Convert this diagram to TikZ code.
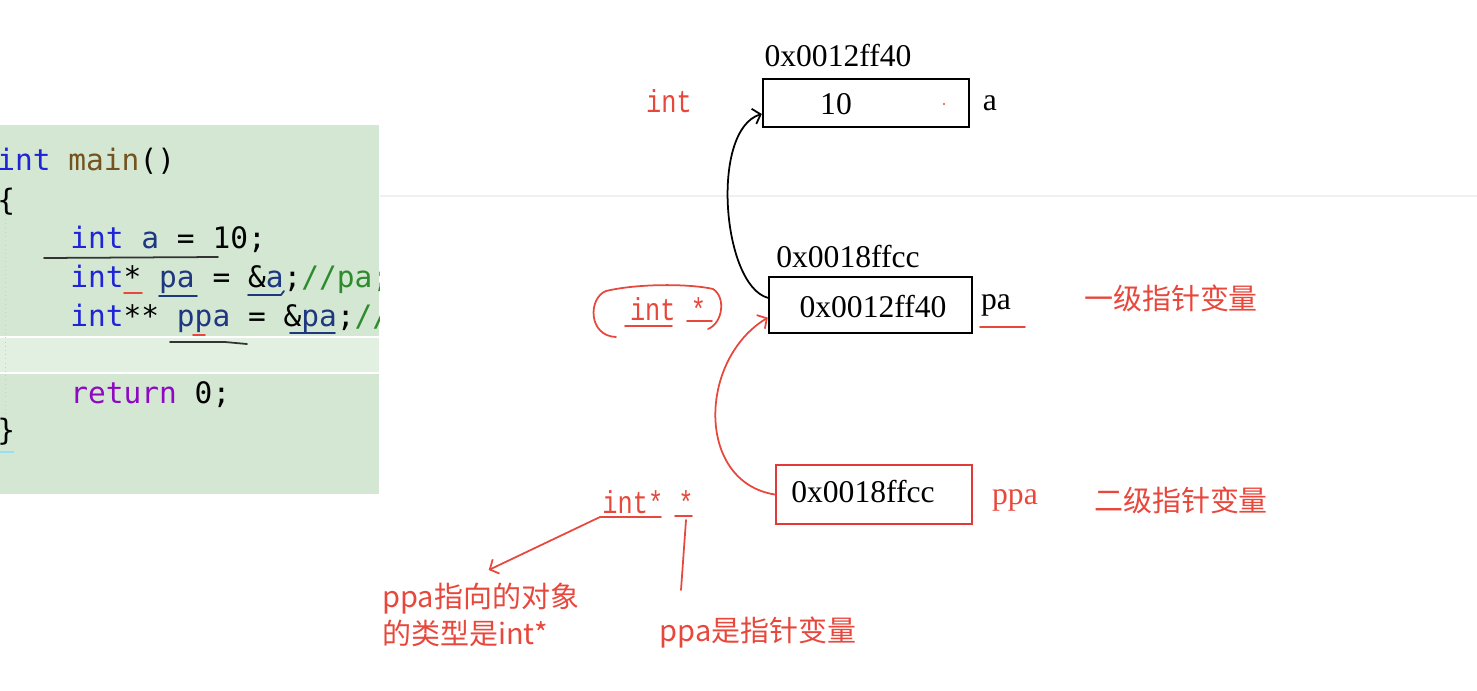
\documentclass[tikz,border=0pt]{standalone}
\usepackage{fontspec}
\setmainfont{Liberation Serif}
\setmonofont{DejaVu Sans Mono}
\newfontfamily\cjk{Noto Sans CJK SC}
\newfontfamily\simmono[FakeStretch=0.8]{Liberation Mono}
\definecolor{codebg}{HTML}{D3E7D3}
\definecolor{codeline}{HTML}{E2F0E2}
\definecolor{kwblue}{HTML}{1F24D6}
\definecolor{fnbrown}{HTML}{74531F}
\definecolor{varblue}{HTML}{1F377F}
\definecolor{cmtgreen}{HTML}{2E8B2E}
\definecolor{retpurple}{HTML}{8F08C4}
\definecolor{ink}{HTML}{E8473C}
\definecolor{boxred}{HTML}{E03A3A}
\usetikzlibrary{calc, arrows.meta}

\begin{document}
\begin{tikzpicture}[x=0.02cm, y=-0.02cm,
  code/.style={anchor=base west, inner sep=0pt, font=\ttfamily\fontsize{16.8}{20}\selectfont},
  cell/.style={draw=black, line width=1.4pt, minimum width=4.12cm, minimum height=0.96cm, inner sep=0pt},
  addr/.style={font=\fontsize{18}{20}\selectfont, inner sep=0pt},
  val/.style={font=\fontsize{18}{20}\selectfont, inner sep=0pt},
  vname/.style={font=\fontsize{18}{20}\selectfont, inner sep=0pt},
  redmono/.style={font=\simmono\fontsize{18}{20}\selectfont, text=ink, inner sep=0pt},
  rednote/.style={font=\cjk\fontsize{16.5}{21}\selectfont, text=ink, inner sep=0pt},
  pen/.style={line width=1pt, line cap=round, line join=round},
  barb/.style={-{Straight Barb[length=4pt,width=9pt]}},
]
\useasboundingbox (0,0) rectangle (1477,690);
\fill[codebg] (0,125) rectangle (379,494);
\fill[codeline] (0,337) rectangle (379,373);
\draw[white, line width=1.5pt] (0,337) -- (379,337) (0,373) -- (379,373);
\draw[gray!40, dotted] (5,215) -- (5,425);
\draw[black!6, line width=0.8pt] (380,196) -- (1477,196);

\begin{scope}
\clip (0,125) rectangle (379,494);
\node[code] (l1) at (-3,170) {\color{kwblue}int \color{fnbrown}main\color{black}()};
\node[code] (l2) at (-3,210) {\{};
\node[code] (l3) at (70,248) {\color{kwblue}int \color{varblue}a \color{black}= 10;};
\node[code] (l4) at (70,287) {\color{kwblue}int\color{black}* \color{varblue}pa \color{black}= \&\color{varblue}a\color{black};\color{cmtgreen}//pa;};
\node[code] (l5) at (70,326) {\color{kwblue}int\color{black}** \color{varblue}ppa \color{black}= \&\color{varblue}pa\color{black};\color{cmtgreen}//};
\node[code] (l6) at (70,403) {\color{retpurple}return \color{black}0;};
\node[code] (l7) at (-3,440) {\}};
\end{scope}
\draw[cyan!40, line width=1.5pt] (0,452) -- (14,452);
\draw[pen, black!80] (44,258) -- (218,257);
\draw[pen, black!80] (170,342) -- (225,342) -- (247,344);
\draw[pen, varblue] (159,296) -- (197,296) (248,295) -- (281,295) -- (284,291) (290,333) -- (335,333);
\draw[pen, ink] (124,293) -- (142,293) (193,335) -- (205,335);

\node[addr] (aaddr) at (838,56) {0x0012ff40};
\node[cell] (abox) at (866,103) {};
\node[val] (aval) at (836,104) {10};
\fill[ink] (944,104) circle (1.2);
\node[vname] (aname) at (990,103) {a};
\node[redmono] (atype) at (669,101) {int};

\node[addr] (paaddr) at (848,257) {0x0018ffcc};
\node[cell, minimum width=4.06cm, minimum height=1.12cm] (pabox) at (870.5,305) {};
\node[val] (paval) at (873,307) {0x0012ff40};
\node[vname] (paname) at (996,305) {pa};
\draw[pen, ink] (980,327) -- (1025,327);
\node[rednote] (palevel) at (1171,298) {一级指针变量};
\node[redmono] (patype) at (668,309) {int *};
\draw[pen, ink] (625,326) -- (672,326) (687,321) -- (712,321);
\draw[pen, ink] (616,337) .. controls (588,336) and (588,298) .. (606,291)
  .. controls (640,283) and (692,284) .. (713,289) .. controls (726,297) and (723,323) .. (708,329);

\node[cell, draw=boxred, minimum width=3.92cm, minimum height=1.18cm] (ppabox) at (874,494.5) {};
\node[val] (ppaval) at (863,492) {0x0018ffcc};
\node[vname, text=ink] (ppaname) at (1015,500) {ppa};
\node[rednote] (ppalevel) at (1181,500) {二级指针变量};

\draw[pen, barb] (pabox.176) .. controls (722,285) and (710,130) .. (abox.186);
\draw[pen, ink, barb] (ppabox.west) .. controls (696,482) and (698,360) .. (pabox.187);

\node[redmono] (pptype) at (648,502) {int* *};
\coordinate (ulstart) at (600,517);
\coordinate (starend) at (681,590);
\draw[pen, ink] (661,517) -- (ulstart) (675,516) -- (692,516);
\node[rednote, anchor=north west, align=left] (notetype) at (382,583) {ppa指向的对象\\的类型是int*};
\node[rednote] (noteptr) at (758,633) {ppa是指针变量};
\draw[pen, ink, barb] (ulstart) -- ($(notetype.north)+(8,-13)$);
\draw[pen, ink] (686,520) -- (starend);
\end{tikzpicture}
\end{document}
